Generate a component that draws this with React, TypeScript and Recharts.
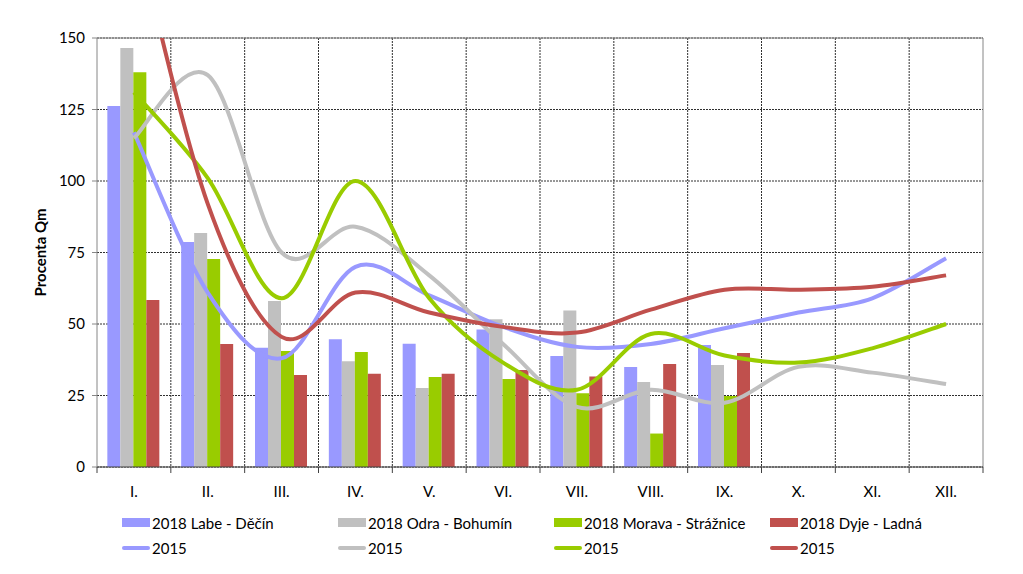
import { Bar, CartesianGrid, ComposedChart, Legend, Line, XAxis, YAxis } from "recharts";

const months = ["I.", "II.", "III.", "IV.", "V.", "VI.", "VII.", "VIII.", "IX.", "X.", "XI.", "XII."];

// 2018 monthly flows, % of Qm (no data from X. on)
const labe2018 = [126.2, 78.7, 41.7, 44.7, 43.1, 48.1, 38.8, 35, 42.7, null, null, null];
const odra2018 = [146.5, 81.8, 58, 37, 27.6, 51.7, 54.7, 29.7, 35.7, null, null, null];
const morava2018 = [138, 72.7, 40.6, 40.2, 31.5, 30.8, 25.8, 11.7, 24.8, null, null, null];
const dyje2018 = [58.4, 43, 32.2, 32.6, 32.6, 33.9, 31.6, 36, 39.9, null, null, null];

// 2015 reference year
const labe2015 = [117, 61, 38, 70, 60, 49, 42, 43, 48.5, 54, 59, 73];
const odra2015 = [115, 137, 75, 84, 67, 43, 21, 27, 22.5, 35, 33, 29];
const morava2015 = [131, 101, 59, 100, 59, 36.5, 27, 46.5, 39, 36.5, 41.5, 50];
const dyje2015 = [190, 92, 45.5, 61, 54, 49, 47, 55, 62, 62, 63, 67];

const yTicks = [0, 25, 50, 75, 100, 125, 150];

const data = months.map((m, i) => ({
  month: m,
  labe2018: labe2018[i],
  odra2018: odra2018[i],
  morava2018: morava2018[i],
  dyje2018: dyje2018[i],
  labe2015: labe2015[i],
  odra2015: odra2015[i],
  morava2015: morava2015[i],
  dyje2015: dyje2015[i],
}));

const BLUE = "#9999ff";
const GREY = "#c0c0c0";
const GREEN = "#99cc00";
const RED = "#c0504d";
const FONT = "Lato, 'Liberation Sans', sans-serif";

const W = 1023;
const H = 574;
const LEFT = 97;
const RIGHT = 40;
const STEP = (W - LEFT - RIGHT) / months.length;

const legendItems = [
  { label: "2018 Labe - Děčín", color: BLUE, kind: "bar" },
  { label: "2018 Odra - Bohumín", color: GREY, kind: "bar" },
  { label: "2018 Morava - Strážnice", color: GREEN, kind: "bar" },
  { label: "2018 Dyje - Ladná", color: RED, kind: "bar" },
  { label: "2015", color: BLUE, kind: "line" },
  { label: "2015", color: GREY, kind: "line" },
  { label: "2015", color: GREEN, kind: "line" },
  { label: "2015", color: RED, kind: "line" },
];

// Excel-like smoothed line (uniform Catmull-Rom through the points)
const smoothCurve = (context: any) => {
  let pts: number[][] = [];
  return {
    areaStart() {},
    areaEnd() {},
    lineStart() {
      pts = [];
    },
    point(x: number, y: number) {
      pts.push([+x, +y]);
    },
    lineEnd() {
      if (!pts.length) return;
      context.moveTo(pts[0][0], pts[0][1]);
      for (let i = 0; i < pts.length - 1; i++) {
        const p0 = pts[i - 1] || pts[i];
        const p1 = pts[i];
        const p2 = pts[i + 1];
        const p3 = pts[i + 2] || p2;
        context.bezierCurveTo(
          p1[0] + (p2[0] - p0[0]) / 6,
          p1[1] + (p2[1] - p0[1]) / 6,
          p2[0] - (p3[0] - p1[0]) / 6,
          p2[1] - (p3[1] - p1[1]) / 6,
          p2[0],
          p2[1]
        );
      }
    },
  };
};

function MonthTick({ x, y, payload, index }: any) {
  const left = x - STEP / 2;
  return (
    <g>
      <line x1={left} y1={y} x2={left} y2={y + 6} stroke="#404040" />
      {index === months.length - 1 && (
        <line x1={x + STEP / 2} y1={y} x2={x + STEP / 2} y2={y + 6} stroke="#404040" />
      )}
      <text x={x} y={y + 24} textAnchor="middle" dominantBaseline="central" fontSize={15} fill="#000" fontFamily={FONT}>
        {payload.value}
      </text>
    </g>
  );
}

function LegendGrid() {
  return (
    <div
      style={{
        display: "grid",
        gridTemplateColumns: "repeat(4, 216px)",
        gridAutoRows: 25,
        paddingLeft: 122,
        paddingTop: 3,
        fontFamily: FONT,
        fontSize: 15,
        color: "#000",
      }}
    >
      {legendItems.map((it, i) => (
        <div key={i} style={{ display: "flex", alignItems: "center", whiteSpace: "nowrap" }}>
          <span
            style={{
              display: "inline-block",
              width: 28,
              height: it.kind === "bar" ? 9 : 4,
              borderRadius: it.kind === "bar" ? 0 : 2,
              background: it.color,
              marginRight: 2,
            }}
          />
          {it.label}
        </div>
      ))}
    </div>
  );
}

export default function App() {
  return (
    <div style={{ position: "absolute", left: 0, top: 0, background: "#fff" }}>
      <ComposedChart
        width={W}
        height={H}
        data={data}
        margin={{ top: 38, right: RIGHT, bottom: 0, left: 0 }}
        barCategoryGap="14%"
        barGap={0}
      >
        <CartesianGrid
          stroke="#303030"
          strokeDasharray="2 1"
          verticalCoordinatesGenerator={({ offset }: any) =>
            months.slice(1).map((_, i) => offset.left + ((i + 1) * offset.width) / months.length)
          }
        />
        <CartesianGrid
          stroke="#868686"
          horizontalCoordinatesGenerator={({ offset }: any) => [offset.top]}
          verticalCoordinatesGenerator={({ offset }: any) => [offset.left + offset.width]}
        />
        <XAxis
          dataKey="month"
          height={40}
          axisLine={{ stroke: "#404040" }}
          tickLine={false}
          tickSize={0}
          tickMargin={0}
          interval={0}
          tick={<MonthTick />}
        />
        <YAxis
          width={LEFT}
          domain={[0, 150]}
          ticks={yTicks}
          allowDataOverflow
          axisLine={{ stroke: "#868686" }}
          tickLine={{ stroke: "#868686" }}
          tickSize={5}
          tickMargin={7}
          tick={{ fontSize: 15, fill: "#000", fontFamily: FONT }}
          label={{
            value: "Procenta Qm",
            angle: -90,
            position: "center",
            dx: -8,
            style: { fontSize: 15, fontWeight: 700, fill: "#000", fontFamily: FONT },
          }}
        />
        <Legend verticalAlign="bottom" height={67} content={<LegendGrid />} />
        <Bar dataKey="labe2018" name="2018 Labe - Děčín" fill={BLUE} isAnimationActive={false} />
        <Bar dataKey="odra2018" name="2018 Odra - Bohumín" fill={GREY} isAnimationActive={false} />
        <Bar dataKey="morava2018" name="2018 Morava - Strážnice" fill={GREEN} isAnimationActive={false} />
        <Bar dataKey="dyje2018" name="2018 Dyje - Ladná" fill={RED} isAnimationActive={false} />
        <Line dataKey="labe2015" name="2015" type={smoothCurve as any} stroke={BLUE} strokeWidth={4} dot={false} isAnimationActive={false} />
        <Line dataKey="odra2015" name="2015" type={smoothCurve as any} stroke={GREY} strokeWidth={4} dot={false} isAnimationActive={false} />
        <Line dataKey="morava2015" name="2015" type={smoothCurve as any} stroke={GREEN} strokeWidth={4} dot={false} isAnimationActive={false} />
        <Line dataKey="dyje2015" name="2015" type={smoothCurve as any} stroke={RED} strokeWidth={4} dot={false} isAnimationActive={false} />
      </ComposedChart>
    </div>
  );
}
